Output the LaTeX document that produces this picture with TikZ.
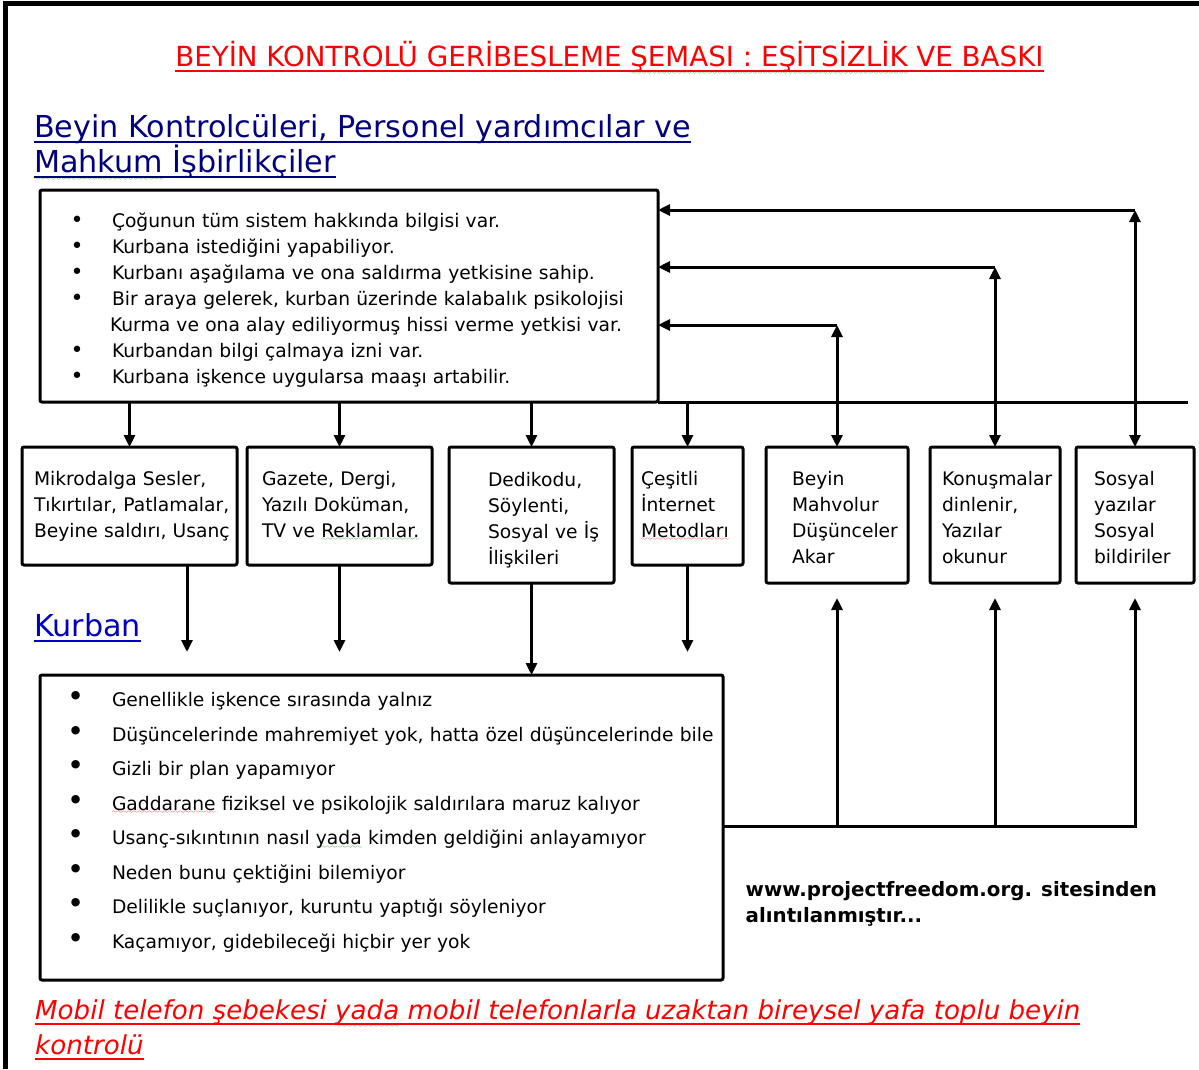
\documentclass[tikz,border=0pt]{standalone}
\usepackage{fontspec}
\setmainfont{DejaVu Sans}
\usepackage{xcolor}
\usetikzlibrary{arrows.meta}

\definecolor{titlered}{RGB}{255,0,0}
\definecolor{headblue}{RGB}{0,0,128}
\definecolor{victimblue}{RGB}{0,0,190}
\definecolor{spellgreen}{RGB}{0,140,0}

% fonts of the boxes
\newcommand{\bodyfont}{\fontsize{18.7}{26}\selectfont}
\newcommand{\listfont}{\fontsize{18.7}{34.5}\selectfont}
\newcommand{\indentby}[1]{\parindent=0pt\leftskip=#1pt\relax}
\newcommand{\tallfirst}[1]{\rule{0pt}{#1pt}}
\newcommand{\deeplast}[1]{\rule[-#1pt]{0pt}{#1pt}}
\newcommand{\dotitem}{\makebox[40.5pt][l]{\hspace*{-1pt}\fontsize{22}{22}\selectfont•}}
\newcommand{\bigdotitem}{\makebox[42.7pt][l]{\hspace*{-1.5pt}\fontsize{29}{29}\selectfont•}}
% underline and spell-check waves
\newsavebox{\ulbox}
\newcommand{\ul}[1]{\leavevmode\sbox{\ulbox}{#1}\rlap{\rule[-5.8pt]{\wd\ulbox}{1.8pt}}\usebox{\ulbox}}
\newsavebox{\wvbox}
\font\sixly=lasy6
\newcommand{\wave}[3][3.5pt]{\leavevmode\sbox{\wvbox}{#3}\rlap{\textcolor{#2}{\lower#1\hbox to \wd\wvbox{\xleaders\hbox{\sixly\char58}\hfil}}}\usebox{\wvbox}}

\begin{document}
\begin{tikzpicture}[x=1pt, y=-1pt,
    box/.style={draw, line width=3pt, rounded corners=2pt, anchor=north west,
      inner sep=0pt, outer sep=0pt, align=left, font=\bodyfont},
    arr/.style={line width=3pt, -{Triangle[length=12pt, width=11pt]}},
    arrs/.style={line width=3pt, {Triangle[length=12pt, width=11pt]}-{Triangle[length=12pt, width=11pt]}},
    wire/.style={line width=3pt}]
	\useasboundingbox (0,0) rectangle (1199,1069);
	\draw[line width=5pt] (5,1069) -- (5,3) -- (1199,3);

	% headings
	\node[font=\fontsize{27.7}{30}\selectfont, text=titlered, anchor=base] (title) at (609.5,66) {\ul{BEYİN KONTROLÜ GERİBESLEME \wave[8pt]{spellgreen}{ŞEMASI : EŞİTSİZLİK} VE BASKI}};
	\node[font=\fontsize{30.2}{35}\selectfont, text=headblue, anchor=base west, inner sep=0pt] (ctrlhead) at (34,137) {\ul{Beyin Kontrolcüleri, Personel yardımcılar ve}};
	\node[font=\fontsize{30.2}{35}\selectfont, text=headblue, anchor=base west, inner sep=0pt] (ctrlhead2) at (34,172) {\ul{\wave[8pt]{spellgreen}{Mahkum} İşbirlikçiler}};
	\node[font=\fontsize{30.2}{35}\selectfont, text=victimblue, anchor=base west, inner sep=0pt] (victimhead) at (34,636) {\ul{Kurban}};

	% boxes
	\node[box, minimum width=618pt, minimum height=212pt, text width=618pt] (staff) at (40,190) {\indentby{31.5}%
		\dotitem\tallfirst{22.2}Çoğunun tüm sistem hakkında bilgisi var.\\
		\dotitem Kurbana istediğini yapabiliyor.\\
		\dotitem Kurbanı aşağılama ve ona saldırma yetkisine sahip.\\
		\dotitem Bir araya gelerek, kurban üzerinde kalabalık psikolojisi\\
		\hspace*{38.5pt}Kurma ve ona alay ediliyormuş hissi verme yetkisi var.\\
		\dotitem Kurbandan bilgi çalmaya izni var.\\
		\dotitem Kurbana işkence uygularsa maaşı artabilir.\par};
	\node[box, minimum width=215pt, minimum height=118pt, text width=215pt] (micro) at (22,447) {\indentby{12}Mikrodalga Sesler,\\Tıkırtılar, Patlamalar,\\Beyine saldırı, Usanç\par};
	\node[box, minimum width=185pt, minimum height=118pt, text width=185pt] (press) at (247,447) {\indentby{15}Gazete, Dergi,\\Yazılı Doküman,\\TV ve \wave{spellgreen}{Reklamlar.}\par};
	\node[box, minimum width=165pt, minimum height=136pt, text width=165pt] (gossip) at (449,447) {\indentby{39}\tallfirst{24.2}Dedikodu,\\Söylenti,\\Sosyal ve İş\\İlişkileri\par};
	\node[box, minimum width=111pt, minimum height=118pt, text width=111pt] (web) at (632,447) {\indentby{9}Çeşitli\\İnternet\\\wave{red}{Metodları}\par};
	\node[box, minimum width=142pt, minimum height=136pt, text width=142pt] (brain) at (766,447) {\indentby{26}\tallfirst{20.2}Beyin\\Mahvolur\\Düşünceler\\Akar\par};
	\node[box, minimum width=130pt, minimum height=136pt, text width=130pt] (talks) at (930,447) {\indentby{12}\tallfirst{20.2}Konuşmalar\\dinlenir,\\Yazılar\\okunur\par};
	\node[box, minimum width=118pt, minimum height=136pt, text width=118pt] (social) at (1076,447) {\indentby{18}\tallfirst{20.2}Sosyal\\yazılar\\Sosyal\\bildiriler\par};
	\node[box, font=\listfont, minimum width=683pt, minimum height=305pt, text width=683pt] (kurban) at (40,675) {\indentby{29.3}%
		\bigdotitem Genellikle işkence sırasında yalnız\\
		\bigdotitem Düşüncelerinde mahremiyet yok, hatta özel düşüncelerinde bile\\
		\bigdotitem Gizli bir plan yapamıyor\\
		\bigdotitem \wave{red}{Gaddarane} fiziksel ve psikolojik saldırılara maruz kalıyor\\
		\bigdotitem Usanç-sıkıntının nasıl \wave{spellgreen}{yada} kimden geldiğini anlayamıyor\\
		\bigdotitem Neden bunu çektiğini bilemiyor\\
		\bigdotitem Delilikle suçlanıyor, kuruntu yaptığı söyleniyor\\
		\bigdotitem Kaçamıyor, gidebileceği hiçbir yer yok\deeplast{15.4}\par};

	% source and note
	\node[font=\bfseries\fontsize{19.8}{26}\selectfont, anchor=base west, inner sep=0pt] (source) at (745.5,896.5) {www.projectfreedom.org. sitesinden};
	\node[font=\bfseries\fontsize{19.8}{26}\selectfont, anchor=base west, inner sep=0pt] (source2) at (745.5,922.5) {alıntılanmıştır...};
	\node[font=\itshape\fontsize{26.1}{35}\selectfont, text=titlered, anchor=base west, inner sep=0pt] (note) at (35,1019) {\ul{Mobil telefon şebekesi \wave[8pt]{spellgreen}{yada} mobil telefonlarla uzaktan bireysel yafa toplu beyin}};
	\node[font=\itshape\fontsize{26.1}{35}\selectfont, text=titlered, anchor=base west, inner sep=0pt] (note2) at (35,1054) {\ul{kontrolü}};

	\coordinate (busend) at (staff.south east -| 1188,0);
	\coordinate (fb1) at (brain.north |- 0,325);
	\coordinate (fb2) at (talks.north |- 0,267);
	\coordinate (fb3) at (social.north |- 0,210);
	\coordinate (kj) at (social.south |- 0,826);
	\coordinate (drop) at (187,652);

	% down from the staff box
	\draw[arr] (staff.south -| micro.north) -- (micro.north);
	\draw[arr] (staff.south -| press.north) -- (press.north);
	\draw[arr] (staff.south -| gossip.north) -- (gossip.north);
	\draw[arr] (staff.south -| web.north) -- (web.north);
	\draw[wire] (staff.south east) -- (busend);

	% feedback up to the staff box
	\draw[arrs] (brain.north) -- (fb1);
	\draw[arrs] (talks.north) -- (fb2);
	\draw[arrs] (social.north) -- (fb3);
	\draw[arr] (fb1) -- (fb1 -| staff.east);
	\draw[arr] (fb2) -- (fb2 -| staff.east);
	\draw[arr] (fb3) -- (fb3 -| staff.east);

	% down to the victim
	\draw[arr] (micro.south -| drop) -- (drop);
	\draw[arr] (press.south) -- (press.south |- drop);
	\draw[arr] (gossip.south) -- (gossip.south |- kurban.north);
	\draw[arr] (web.south) -- (web.south |- drop);

	% from the victim back up
	\draw[arr] (kurban.east |- kj) -- (kj) -- ([yshift=-15pt]social.south);
	\draw[arr] (brain.south |- kj) -- ([yshift=-15pt]brain.south);
	\draw[arr] (talks.south |- kj) -- ([yshift=-15pt]talks.south);
\end{tikzpicture}
\end{document}
